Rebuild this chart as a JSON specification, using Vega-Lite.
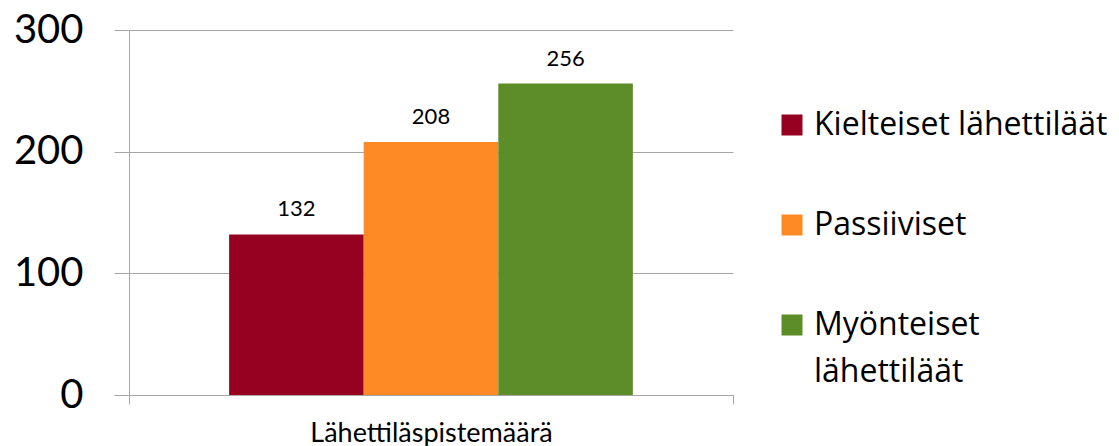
{
  "$schema": "https://vega.github.io/schema/vega-lite/v6.json",
  "width": 604,
  "height": 365,
  "autosize": {"type": "none"},
  "padding": {"left": 129, "top": 30, "right": 386, "bottom": 51},
  "background": "white",
  "config": {
    "font": "Lato",
    "view": {"stroke": null}
  },
  "data": {
    "values": [
      {"group": "Lähettiläspistemäärä", "series": "Kielteiset lähettiläät", "value": 132},
      {"group": "Lähettiläspistemäärä", "series": "Passiiviset", "value": 208},
      {"group": "Lähettiläspistemäärä", "series": "Myönteiset lähettiläät", "value": 256}
    ]
  },
  "encoding": {
    "x": {
      "field": "group",
      "type": "nominal",
      "scale": {"paddingInner": 0, "paddingOuter": 0},
      "axis": {
        "title": null,
        "labelAngle": 0,
        "labelFontSize": 27,
        "labelColor": "#000000",
        "labelPadding": 16,
        "labelLimit": 600,
        "tickBand": "extent",
        "tickSize": 9,
        "tickColor": "#a6a6a6",
        "domainColor": "#a6a6a6",
        "labelFont": "Lato"
      }
    },
    "xOffset": {
      "field": "series",
      "type": "nominal",
      "sort": ["Kielteiset lähettiläät", "Passiiviset", "Myönteiset lähettiläät"],
      "scale": {"paddingInner": 0, "paddingOuter": 0.744}
    },
    "y": {
      "field": "value",
      "type": "quantitative",
      "scale": {"domain": [0, 300]},
      "axis": {
        "title": null,
        "values": [0, 100, 200, 300],
        "labelFontSize": 40,
        "labelColor": "#000000",
        "labelPadding": 31,
        "tickSize": 15,
        "tickColor": "#a6a6a6",
        "domainColor": "#a6a6a6",
        "gridColor": "#a6a6a6",
        "grid": true
      }
    }
  },
  "layer": [
    {
      "mark": {"type": "bar"},
      "encoding": {
        "color": {
          "field": "series",
          "type": "nominal",
          "scale": {
            "domain": ["Kielteiset lähettiläät", "Passiiviset", "Myönteiset lähettiläät"],
            "range": ["#960021", "#fe8a26", "#5d8d28"]
          },
          "legend": {
            "title": null,
            "orient": "none",
            "legendX": 647,
            "legendY": 79,
            "padding": 0,
            "symbolType": "square",
            "symbolSize": 441,
            "symbolStrokeWidth": 0,
            "labelFont": "Open Sans",
            "labelFontSize": 32,
            "labelColor": "#000000",
            "labelOffset": 6,
            "labelLimit": 400,
            "rowPadding": 68,
            "labelExpr": "datum.label == 'Myönteiset lähettiläät' ? ['Myönteiset', 'lähettiläät'] : datum.label",
            "encoding": {"labels": {"lineHeight": {"value": 47}, "update": {"lineHeight": {"value": 47}}}}
          }
        }
      }
    },
    {
      "mark": {"type": "text", "baseline": "alphabetic", "dy": -18, "fontSize": 22, "color": "#000000"},
      "encoding": {
        "text": {"field": "value", "type": "quantitative"}
      }
    }
  ]
}
